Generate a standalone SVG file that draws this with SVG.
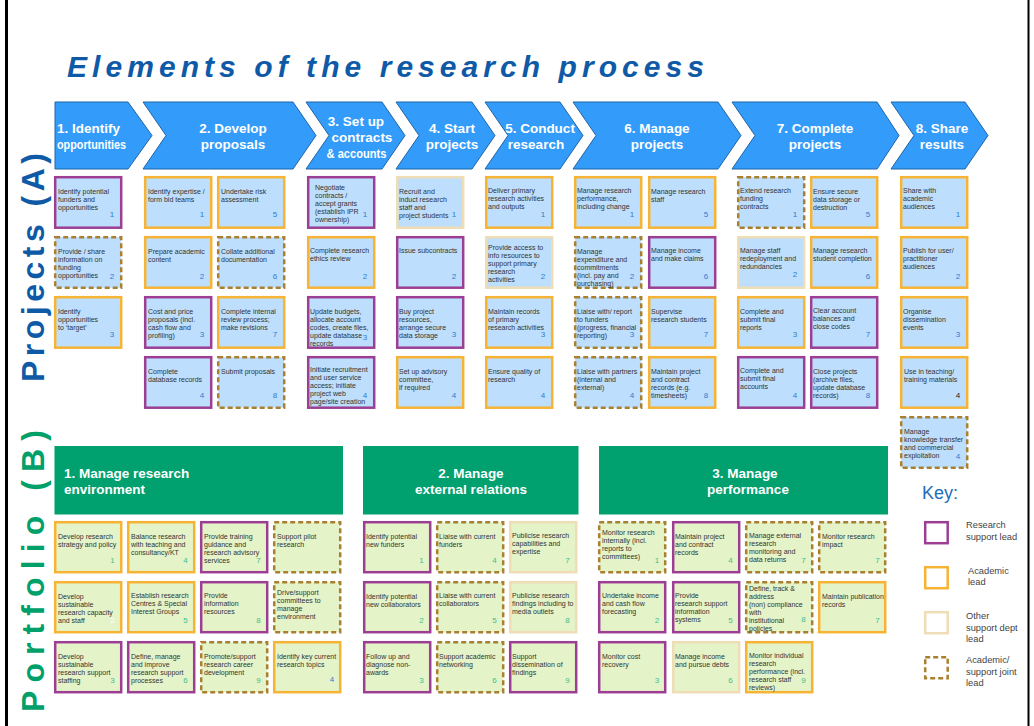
<svg xmlns="http://www.w3.org/2000/svg" width="1034" height="726" viewBox="0 0 1034 726">
<style>
text{font-family:"Liberation Sans",Arial,sans-serif}
.title{font-size:30px;font-weight:bold;font-style:italic;fill:#0E5AA7}
.side{font-size:32px;font-weight:bold}
.chev{fill:#339CFA;stroke:#1F64A8;stroke-width:1}
.ch{font-size:13.5px;font-weight:bold;fill:#fff}
.bar{fill:#01A06F}
.bt{font-size:13.5px;font-weight:bold;fill:#fff}
.pj{fill:#BDDEFC;stroke-width:2.5}
.pf{fill:#E4F3C8;stroke-width:2.5}
.kb{fill:#fff;stroke-width:2.5}
.rs{stroke:#9C3F94}
.ac{stroke:#F7B334}
.ot{stroke:#EEDDB5}
.jt{stroke:#A88030;stroke-dasharray:5 3}
.t{font-size:7px;fill:#333}
.np{font-size:8px;fill:#2F7DD1;text-anchor:middle}
.nf{font-size:8px;fill:#3DC08C;text-anchor:middle}
.nd{font-size:8px;fill:#222;text-anchor:middle}
.nw{font-size:8px;fill:#fff;text-anchor:middle}
.key{font-size:18px;fill:#1F6EB8}
.kt{font-size:9.3px;fill:#444}
</style>

<!-- frame -->
<line x1="6.5" y1="0" x2="6.5" y2="726" stroke="#000" stroke-width="3"/>
<line x1="1028.5" y1="0" x2="1028.5" y2="726" stroke="#000" stroke-width="2"/>

<text class="title" x="67" y="77" textLength="637" lengthAdjust="spacing">Elements of the research process</text>

<text class="side" fill="#0E5AA7" transform="translate(43.5,382) rotate(-90)" textLength="229" lengthAdjust="spacing">Projects (A)</text>
<text class="side" fill="#00A06A" transform="translate(43.5,712) rotate(-90)" textLength="282" lengthAdjust="spacing">Portfolio (B)</text>

<!-- stage headers -->
<g id="stage-1"><polygon class="chev" points="55,102 128,102 152,135.5 128,169 55,169"/><text class="ch" x="57" y="133">1. Identify</text><text class="ch" x="57" y="148.5" textLength="69" lengthAdjust="spacingAndGlyphs">opportunities</text></g>
<g id="stage-2"><polygon class="chev" points="143,102 293,102 316,135.5 293,169 143,169 166,135.5"/><text class="ch" x="233" y="133" text-anchor="middle">2. Develop</text><text class="ch" x="233" y="148.5" text-anchor="middle">proposals</text></g>
<g id="stage-3"><polygon class="chev" points="306,102 382,102 405,135.5 382,169 306,169 329,135.5"/><text class="ch" x="356" y="125.5" text-anchor="middle">3. Set up</text><text class="ch" x="362" y="141.5" text-anchor="middle">contracts</text><text class="ch" x="356.5" y="157.5" text-anchor="middle" textLength="60" lengthAdjust="spacingAndGlyphs">&amp; accounts</text></g>
<g id="stage-4"><polygon class="chev" points="396,102 472,102 495,135.5 472,169 396,169 419,135.5"/><text class="ch" x="452" y="133" text-anchor="middle">4. Start</text><text class="ch" x="452" y="148.5" text-anchor="middle">projects</text></g>
<g id="stage-5"><polygon class="chev" points="485,102 560,102 583,135.5 560,169 485,169 508,135.5"/><text class="ch" x="540" y="133" text-anchor="middle">5. Conduct</text><text class="ch" x="536" y="148.5" text-anchor="middle">research</text></g>
<g id="stage-6"><polygon class="chev" points="573,102 718,102 741,135.5 718,169 573,169 596,135.5"/><text class="ch" x="657" y="133" text-anchor="middle">6. Manage</text><text class="ch" x="657" y="148.5" text-anchor="middle">projects</text></g>
<g id="stage-7"><polygon class="chev" points="732,102 877,102 899,135.5 877,169 732,169 755,135.5"/><text class="ch" x="815" y="133" text-anchor="middle">7. Complete</text><text class="ch" x="815" y="148.5" text-anchor="middle">projects</text></g>
<g id="stage-8"><polygon class="chev" points="891,102 965,102 988,135.5 965,169 891,169 914,135.5"/><text class="ch" x="942" y="133" text-anchor="middle">8. Share</text><text class="ch" x="942" y="148.5" text-anchor="middle">results</text></g>

<!-- Projects: stage 1 -->
<g id="a1-1"><rect class="pj rs" x="55.2" y="177.2" width="66" height="50.5"/><text class="t" y="194"><tspan x="58">Identify potential</tspan><tspan x="58" dy="8">funders and</tspan><tspan x="58" dy="8">opportunities</tspan></text><text class="np" x="112" y="217">1</text></g>
<g id="a1-2"><rect class="pj jt" x="55.2" y="237.2" width="66" height="50.5"/><text class="t" y="254"><tspan x="58">Provide  / share</tspan><tspan x="58" dy="8">information on</tspan><tspan x="58" dy="8">funding</tspan><tspan x="58" dy="8">opportunities</tspan></text><text class="np" x="112" y="279">2</text></g>
<g id="a1-3"><rect class="pj ac" x="55.2" y="297.2" width="66" height="50.5"/><text class="t" y="314"><tspan x="58">Identify</tspan><tspan x="58" dy="8">opportunities</tspan><tspan x="58" dy="8">to ‘target’</tspan></text><text class="np" x="112" y="337">3</text></g>

<!-- Projects: stage 2 -->
<g id="a2-1"><rect class="pj ac" x="145.2" y="177.2" width="66" height="50.5"/><text class="t" y="194"><tspan x="148">Identify expertise /</tspan><tspan x="148" dy="8">form bid teams</tspan></text><text class="np" x="202" y="217">1</text></g>
<g id="a2-2"><rect class="pj ac" x="145.2" y="237.2" width="66" height="50.5"/><text class="t" y="254"><tspan x="148">Prepare academic</tspan><tspan x="148" dy="8">content</tspan></text><text class="np" x="202" y="279">2</text></g>
<g id="a2-3"><rect class="pj rs" x="145.2" y="297.2" width="66" height="50.5"/><text class="t" y="314"><tspan x="148">Cost and price</tspan><tspan x="148" dy="8">proposals (incl.</tspan><tspan x="148" dy="8">cash flow and</tspan><tspan x="148" dy="8">profiling)</tspan></text><text class="np" x="202" y="337">3</text></g>
<g id="a2-4"><rect class="pj rs" x="145.2" y="357.2" width="66" height="50.5"/><text class="t" y="374"><tspan x="148">Complete</tspan><tspan x="148" dy="8">database records</tspan></text><text class="np" x="202" y="398">4</text></g>
<g id="a2-5"><rect class="pj ac" x="218.2" y="177.2" width="66" height="50.5"/><text class="t" y="194"><tspan x="221">Undertake risk</tspan><tspan x="221" dy="8">assessment</tspan></text><text class="np" x="275" y="217">5</text></g>
<g id="a2-6"><rect class="pj jt" x="218.2" y="237.2" width="66" height="50.5"/><text class="t" y="254"><tspan x="221">Collate additional</tspan><tspan x="221" dy="8">documentation</tspan></text><text class="np" x="275" y="279">6</text></g>
<g id="a2-7"><rect class="pj ac" x="218.2" y="297.2" width="66" height="50.5"/><text class="t" y="314"><tspan x="221">Complete internal</tspan><tspan x="221" dy="8">review process;</tspan><tspan x="221" dy="8">make revisions</tspan></text><text class="np" x="275" y="337">7</text></g>
<g id="a2-8"><rect class="pj jt" x="218.2" y="357.2" width="66" height="50.5"/><text class="t" y="374"><tspan x="221">Submit proposals</tspan></text><text class="np" x="275" y="398">8</text></g>

<!-- Projects: stage 3 -->
<g id="a3-1"><rect class="pj rs" x="308.2" y="177.2" width="66" height="50.5"/><text class="t" y="190"><tspan x="315">Negotiate</tspan><tspan x="315" dy="8">contracts  /</tspan><tspan x="315" dy="8">accept grants</tspan><tspan x="315" dy="8">(establish IPR</tspan><tspan x="315" dy="8">ownership)</tspan></text><text class="np" x="365" y="217">1</text></g>
<g id="a3-2"><rect class="pj ac" x="308.2" y="237.2" width="66" height="50.5"/><text class="t" y="253"><tspan x="310">Complete research</tspan><tspan x="310" dy="8">ethics review</tspan></text><text class="np" x="365" y="279">2</text></g>
<g id="a3-3"><rect class="pj rs" x="308.2" y="297.2" width="66" height="50.5"/><text class="t" y="314"><tspan x="310">Update budgets,</tspan><tspan x="310" dy="8">allocate account</tspan><tspan x="310" dy="8">codes, create files,</tspan><tspan x="310" dy="8">update database</tspan><tspan x="310" dy="8">records</tspan></text><text class="np" x="365" y="340">3</text></g>
<g id="a3-4"><rect class="pj rs" x="308.2" y="357.2" width="66" height="50.5"/><text class="t" y="372"><tspan x="310">Initiate recruitment</tspan><tspan x="310" dy="8">and user service</tspan><tspan x="310" dy="8">access; initiate</tspan><tspan x="310" dy="8">project web</tspan><tspan x="310" dy="8">page/site creation</tspan></text><text class="np" x="365" y="398">4</text></g>

<!-- Projects: stage 4 -->
<g id="a4-1"><rect class="pj ot" x="397.2" y="177.2" width="66" height="50.5"/><text class="t" y="194"><tspan x="399">Recruit and</tspan><tspan x="399" dy="8">induct research</tspan><tspan x="399" dy="8">staff and</tspan><tspan x="399" dy="8">project students</tspan></text><text class="np" x="454" y="217">1</text></g>
<g id="a4-2"><rect class="pj rs" x="397.2" y="237.2" width="66" height="50.5"/><text class="t" y="253"><tspan x="399">Issue subcontracts</tspan></text><text class="np" x="454" y="279">2</text></g>
<g id="a4-3"><rect class="pj rs" x="397.2" y="297.2" width="66" height="50.5"/><text class="t" y="314"><tspan x="399">Buy project</tspan><tspan x="399" dy="8">resources,</tspan><tspan x="399" dy="8">arrange secure</tspan><tspan x="399" dy="8">data storage</tspan></text><text class="np" x="454" y="337">3</text></g>
<g id="a4-4"><rect class="pj ac" x="397.2" y="357.2" width="66" height="50.5"/><text class="t" y="374"><tspan x="399">Set up advisory</tspan><tspan x="399" dy="8">committee,</tspan><tspan x="399" dy="8">if required</tspan></text><text class="np" x="454" y="398">4</text></g>

<!-- Projects: stage 5 -->
<g id="a5-1"><rect class="pj ac" x="486.2" y="177.2" width="66" height="50.5"/><text class="t" y="193"><tspan x="488">Deliver primary</tspan><tspan x="488" dy="8">research activities</tspan><tspan x="488" dy="8">and outputs</tspan></text><text class="np" x="543" y="217">1</text></g>
<g id="a5-2"><rect class="pj ot" x="486.2" y="237.2" width="66" height="50.5"/><text class="t" y="250"><tspan x="488">Provide access to</tspan><tspan x="488" dy="8">info resources to</tspan><tspan x="488" dy="8">support primary</tspan><tspan x="488" dy="8">research</tspan><tspan x="488" dy="8">activities</tspan></text><text class="np" x="543" y="279">2</text></g>
<g id="a5-3"><rect class="pj ac" x="486.2" y="297.2" width="66" height="50.5"/><text class="t" y="314"><tspan x="488">Maintain records</tspan><tspan x="488" dy="8">of  primary</tspan><tspan x="488" dy="8">research activities</tspan></text><text class="np" x="543" y="337">3</text></g>
<g id="a5-4"><rect class="pj ac" x="486.2" y="357.2" width="66" height="50.5"/><text class="t" y="374"><tspan x="488">Ensure quality of</tspan><tspan x="488" dy="8">research</tspan></text><text class="np" x="543" y="398">4</text></g>

<!-- Projects: stage 6 -->
<g id="a6-1"><rect class="pj ac" x="575.2" y="177.2" width="66" height="50.5"/><text class="t" y="193"><tspan x="577">Manage research</tspan><tspan x="577" dy="8">performance,</tspan><tspan x="577" dy="8">including change</tspan></text><text class="np" x="632" y="217">1</text></g>
<g id="a6-2"><rect class="pj jt" x="575.2" y="237.2" width="66" height="50.5"/><text class="t" y="254"><tspan x="577">Manage</tspan><tspan x="577" dy="8">expenditure and</tspan><tspan x="577" dy="8">commitments</tspan><tspan x="577" dy="8">(incl. pay and</tspan><tspan x="577" dy="8">purchasing)</tspan></text><text class="np" x="632" y="279">2</text></g>
<g id="a6-3"><rect class="pj jt" x="575.2" y="297.2" width="66" height="50.5"/><text class="t" y="314"><tspan x="577">Liaise with/ report</tspan><tspan x="577" dy="8">to funders</tspan><tspan x="577" dy="8">(progress, financial</tspan><tspan x="577" dy="8">reporting)</tspan></text><text class="np" x="632" y="337">3</text></g>
<g id="a6-4"><rect class="pj jt" x="575.2" y="357.2" width="66" height="50.5"/><text class="t" y="374"><tspan x="577">Liaise with partners</tspan><tspan x="577" dy="8">(internal and</tspan><tspan x="577" dy="8">external)</tspan></text><text class="np" x="632" y="398">4</text></g>
<g id="a6-5"><rect class="pj ac" x="649.2" y="177.2" width="66" height="50.5"/><text class="t" y="194"><tspan x="651">Manage research</tspan><tspan x="651" dy="8">staff</tspan></text><text class="np" x="706" y="217">5</text></g>
<g id="a6-6"><rect class="pj rs" x="649.2" y="237.2" width="66" height="50.5"/><text class="t" y="253"><tspan x="651">Manage income</tspan><tspan x="651" dy="8">and make claims</tspan></text><text class="np" x="706" y="279">6</text></g>
<g id="a6-7"><rect class="pj ac" x="649.2" y="297.2" width="66" height="50.5"/><text class="t" y="314"><tspan x="651">Supervise</tspan><tspan x="651" dy="8">research students</tspan></text><text class="np" x="706" y="337">7</text></g>
<g id="a6-8"><rect class="pj ac" x="649.2" y="357.2" width="66" height="50.5"/><text class="t" y="374"><tspan x="651">Maintain project</tspan><tspan x="651" dy="8">and contract</tspan><tspan x="651" dy="8">records (e.g.</tspan><tspan x="651" dy="8">timesheets)</tspan></text><text class="np" x="706" y="398">8</text></g>

<!-- Projects: stage 7 -->
<g id="a7-1"><rect class="pj jt" x="738.2" y="177.2" width="66" height="50.5"/><text class="t" y="193"><tspan x="740">Extend research</tspan><tspan x="740" dy="8">funding</tspan><tspan x="740" dy="8">contracts</tspan></text><text class="np" x="795" y="217">1</text></g>
<g id="a7-2"><rect class="pj ot" x="738.2" y="237.2" width="66" height="50.5"/><text class="t" y="253"><tspan x="740">Manage staff</tspan><tspan x="740" dy="8">redeployment and</tspan><tspan x="740" dy="8">redundancies</tspan></text><text class="np" x="795" y="277">2</text></g>
<g id="a7-3"><rect class="pj ac" x="738.2" y="297.2" width="66" height="50.5"/><text class="t" y="314"><tspan x="740">Complete and</tspan><tspan x="740" dy="8">submit final</tspan><tspan x="740" dy="8">reports</tspan></text><text class="np" x="795" y="337">3</text></g>
<g id="a7-4"><rect class="pj rs" x="738.2" y="357.2" width="66" height="50.5"/><text class="t" y="373"><tspan x="740">Complete and</tspan><tspan x="740" dy="8">submit final</tspan><tspan x="740" dy="8">accounts</tspan></text><text class="np" x="795" y="398">4</text></g>
<g id="a7-5"><rect class="pj ac" x="811.2" y="177.2" width="66" height="50.5"/><text class="t" y="194"><tspan x="813">Ensure secure</tspan><tspan x="813" dy="8">data storage or</tspan><tspan x="813" dy="8">destruction</tspan></text><text class="np" x="868" y="217">5</text></g>
<g id="a7-6"><rect class="pj ac" x="811.2" y="237.2" width="66" height="50.5"/><text class="t" y="253"><tspan x="813">Manage research</tspan><tspan x="813" dy="8">student completion</tspan></text><text class="np" x="868" y="279">6</text></g>
<g id="a7-7"><rect class="pj rs" x="811.2" y="297.2" width="66" height="50.5"/><text class="t" y="313"><tspan x="813">Clear account</tspan><tspan x="813" dy="8">balances and</tspan><tspan x="813" dy="8">close codes</tspan></text><text class="np" x="868" y="337">7</text></g>
<g id="a7-8"><rect class="pj rs" x="811.2" y="357.2" width="66" height="50.5"/><text class="t" y="374"><tspan x="813">Close projects</tspan><tspan x="813" dy="8">(archive files,</tspan><tspan x="813" dy="8">update database</tspan><tspan x="813" dy="8">records)</tspan></text><text class="np" x="868" y="398">8</text></g>

<!-- Projects: stage 8 -->
<g id="a8-1"><rect class="pj ac" x="901.2" y="177.2" width="66" height="50.5"/><text class="t" y="193"><tspan x="903">Share with</tspan><tspan x="903" dy="8">academic</tspan><tspan x="903" dy="8">audiences</tspan></text><text class="np" x="958" y="217">1</text></g>
<g id="a8-2"><rect class="pj ac" x="901.2" y="237.2" width="66" height="50.5"/><text class="t" y="253"><tspan x="903">Publish for user/</tspan><tspan x="903" dy="8">practitioner</tspan><tspan x="903" dy="8">audiences</tspan></text><text class="np" x="958" y="279">2</text></g>
<g id="a8-3"><rect class="pj ac" x="901.2" y="297.2" width="66" height="50.5"/><text class="t" y="314"><tspan x="903">Organise</tspan><tspan x="903" dy="8">dissemination</tspan><tspan x="903" dy="8">events</tspan></text><text class="np" x="958" y="337">3</text></g>
<g id="a8-4"><rect class="pj ac" x="901.2" y="357.2" width="66" height="50.5"/><text class="t" y="374"><tspan x="904">Use in  teaching/</tspan><tspan x="904" dy="8">training materials</tspan></text><text class="nd" x="958" y="398">4</text></g>
<g id="a8-5"><rect class="pj jt" x="901.2" y="417.2" width="66" height="50.5"/><text class="t" y="434"><tspan x="904">Manage</tspan><tspan x="904" dy="8">knowledge transfer</tspan><tspan x="904" dy="8">and commercial</tspan><tspan x="904" dy="8">exploitation</tspan></text><text class="np" x="958" y="458.5">4</text></g>

<!-- Portfolio headers -->
<g id="b1"><rect class="bar" x="54.5" y="446" width="288.5" height="68.5"/><text class="bt" x="64" y="478">1. Manage research</text><text class="bt" x="64" y="494">environment</text></g>
<g id="b2"><rect class="bar" x="363" y="446" width="215.5" height="68.5"/><text class="bt" x="471" y="478" text-anchor="middle">2. Manage</text><text class="bt" x="471" y="494" text-anchor="middle">external relations</text></g>
<g id="b3"><rect class="bar" x="599" y="446" width="289" height="68.5"/><text class="bt" x="745" y="478" text-anchor="middle">3. Manage</text><text class="bt" x="748" y="494" text-anchor="middle">performance</text></g>

<!-- Portfolio 1: research environment -->
<g id="b1-1"><rect class="pf ac" x="55.2" y="522.2" width="66" height="50"/><text class="t" y="539"><tspan x="58">Develop research</tspan><tspan x="58" dy="8">strategy and policy</tspan></text><text class="nf" x="112.5" y="562.5">1</text></g>
<g id="b1-2"><rect class="pf ac" x="55.2" y="582.2" width="66" height="50"/><text class="t" y="599"><tspan x="58">Develop</tspan><tspan x="58" dy="8">sustainable</tspan><tspan x="58" dy="8">research capacity</tspan><tspan x="58" dy="8">and staff</tspan></text><text class="nw" x="112.5" y="622.5">2</text></g>
<g id="b1-3"><rect class="pf rs" x="55.2" y="642.2" width="66" height="50"/><text class="t" y="659"><tspan x="58">Develop</tspan><tspan x="58" dy="8">sustainable</tspan><tspan x="58" dy="8">research support</tspan><tspan x="58" dy="8">staffing</tspan></text><text class="nf" x="112.5" y="683">3</text></g>
<g id="b1-4"><rect class="pf ac" x="128.2" y="522.2" width="66" height="50"/><text class="t" y="539"><tspan x="131">Balance research</tspan><tspan x="131" dy="8">with teaching and</tspan><tspan x="131" dy="8">consultancy/KT</tspan></text><text class="nf" x="185.5" y="562.5">4</text></g>
<g id="b1-5"><rect class="pf ac" x="128.2" y="582.2" width="66" height="50"/><text class="t" y="598"><tspan x="131">Establish research</tspan><tspan x="131" dy="8">Centres &amp; Special</tspan><tspan x="131" dy="8">Interest Groups</tspan></text><text class="nf" x="185.5" y="622.5">5</text></g>
<g id="b1-6"><rect class="pf rs" x="128.2" y="642.2" width="66" height="50"/><text class="t" y="659"><tspan x="131">Define, manage</tspan><tspan x="131" dy="8">and improve</tspan><tspan x="131" dy="8">research support</tspan><tspan x="131" dy="8">processes</tspan></text><text class="nf" x="185.5" y="683">6</text></g>
<g id="b1-7"><rect class="pf rs" x="201.2" y="522.2" width="66" height="50"/><text class="t" y="539"><tspan x="204">Provide training</tspan><tspan x="204" dy="8">guidance and</tspan><tspan x="204" dy="8">research advisory</tspan><tspan x="204" dy="8">services</tspan></text><text class="nf" x="258.5" y="562.5">7</text></g>
<g id="b1-8"><rect class="pf rs" x="201.2" y="582.2" width="66" height="50"/><text class="t" y="598"><tspan x="204">Provide</tspan><tspan x="204" dy="8">information</tspan><tspan x="204" dy="8">resources</tspan></text><text class="nf" x="258.5" y="622.5">8</text></g>
<g id="b1-9"><rect class="pf jt" x="201.2" y="642.2" width="66" height="50"/><text class="t" y="659"><tspan x="204">Promote/support</tspan><tspan x="204" dy="8">research career</tspan><tspan x="204" dy="8">development</tspan></text><text class="nf" x="258.5" y="683">9</text></g>
<g id="b1-10"><rect class="pf jt" x="274.2" y="522.2" width="66" height="50"/><text class="t" y="539"><tspan x="277">Support pilot</tspan><tspan x="277" dy="8">research</tspan></text></g>
<g id="b1-11"><rect class="pf jt" x="274.2" y="582.2" width="66" height="50"/><text class="t" y="595"><tspan x="277">Drive/support</tspan><tspan x="277" dy="8">committees to</tspan><tspan x="277" dy="8">manage</tspan><tspan x="277" dy="8">environment</tspan></text></g>
<g id="b1-12"><rect class="pf ac" x="274.2" y="642.2" width="66" height="50"/><text class="t" y="659"><tspan x="277">Identify key current</tspan><tspan x="277" dy="8">research topics</tspan></text><text class="np" x="332" y="682">4</text></g>

<!-- Portfolio 2: external relations -->
<g id="b2-1"><rect class="pf rs" x="364.2" y="522.2" width="66" height="50"/><text class="t" y="539"><tspan x="366">Identify potential</tspan><tspan x="366" dy="8">new funders</tspan></text><text class="nf" x="421.5" y="563">1</text></g>
<g id="b2-2"><rect class="pf rs" x="364.2" y="582.2" width="66" height="50"/><text class="t" y="599"><tspan x="366">Identify potential</tspan><tspan x="366" dy="8">new collaborators</tspan></text><text class="nf" x="421.5" y="623">2</text></g>
<g id="b2-3"><rect class="pf rs" x="364.2" y="642.2" width="66" height="50"/><text class="t" y="659"><tspan x="366">Follow up and</tspan><tspan x="366" dy="8">diagnose non-</tspan><tspan x="366" dy="8">awards</tspan></text><text class="nf" x="421.5" y="683">3</text></g>
<g id="b2-4"><rect class="pf jt" x="437.2" y="522.2" width="66" height="50"/><text class="t" y="539"><tspan x="439">Liaise with current</tspan><tspan x="439" dy="8">funders</tspan></text><text class="nf" x="494.5" y="563">4</text></g>
<g id="b2-5"><rect class="pf jt" x="437.2" y="582.2" width="66" height="50"/><text class="t" y="598"><tspan x="439">Liaise with current</tspan><tspan x="439" dy="8">collaborators</tspan></text><text class="nf" x="494.5" y="623">5</text></g>
<g id="b2-6"><rect class="pf jt" x="437.2" y="642.2" width="66" height="50"/><text class="t" y="659"><tspan x="439">Support academic</tspan><tspan x="439" dy="8">networking</tspan></text><text class="nf" x="494.5" y="683">6</text></g>
<g id="b2-7"><rect class="pf ot" x="510.2" y="522.2" width="66" height="50"/><text class="t" y="538"><tspan x="512">Publicise research</tspan><tspan x="512" dy="8">capabilities and</tspan><tspan x="512" dy="8">expertise</tspan></text><text class="nf" x="567.5" y="563">7</text></g>
<g id="b2-8"><rect class="pf ot" x="510.2" y="582.2" width="66" height="50"/><text class="t" y="598"><tspan x="512">Publicise research</tspan><tspan x="512" dy="8">findings including to</tspan><tspan x="512" dy="8">media outlets</tspan></text><text class="nf" x="567.5" y="623">8</text></g>
<g id="b2-9"><rect class="pf rs" x="510.2" y="642.2" width="66" height="50"/><text class="t" y="659"><tspan x="512">Support</tspan><tspan x="512" dy="8">dissemination of</tspan><tspan x="512" dy="8">findings</tspan></text><text class="nf" x="567.5" y="683">9</text></g>

<!-- Portfolio 3: performance -->
<g id="b3-1"><rect class="pf jt" x="599.2" y="522.2" width="66" height="50"/><text class="t" y="535"><tspan x="602">Monitor research</tspan><tspan x="602" dy="8">internally (incl.</tspan><tspan x="602" dy="8">reports to</tspan><tspan x="602" dy="8">committees)</tspan></text><text class="nf" x="657" y="563">1</text></g>
<g id="b3-2"><rect class="pf rs" x="599.2" y="582.2" width="66" height="50"/><text class="t" y="598"><tspan x="602">Undertake income</tspan><tspan x="602" dy="8">and cash flow</tspan><tspan x="602" dy="8">forecasting</tspan></text><text class="nf" x="657" y="623">2</text></g>
<g id="b3-3"><rect class="pf rs" x="599.2" y="642.2" width="66" height="50"/><text class="t" y="659"><tspan x="602">Monitor cost</tspan><tspan x="602" dy="8">recovery</tspan></text><text class="nf" x="657" y="683">3</text></g>
<g id="b3-4"><rect class="pf rs" x="673.2" y="522.2" width="66" height="50"/><text class="t" y="539"><tspan x="675">Maintain project</tspan><tspan x="675" dy="8">and contract</tspan><tspan x="675" dy="8">records</tspan></text><text class="nf" x="730.5" y="563">4</text></g>
<g id="b3-5"><rect class="pf rs" x="673.2" y="582.2" width="66" height="50"/><text class="t" y="598"><tspan x="675">Provide</tspan><tspan x="675" dy="8">research support</tspan><tspan x="675" dy="8">information</tspan><tspan x="675" dy="8">systems</tspan></text><text class="nf" x="730.5" y="623">5</text></g>
<g id="b3-6"><rect class="pf ot" x="673.2" y="642.2" width="66" height="50"/><text class="t" y="659"><tspan x="675">Manage income</tspan><tspan x="675" dy="8">and pursue  debts</tspan></text><text class="nf" x="730.5" y="683">6</text></g>
<g id="b3-7"><rect class="pf jt" x="746.2" y="522.2" width="66" height="50"/><text class="t" y="538"><tspan x="749">Manage external</tspan><tspan x="749" dy="8">research</tspan><tspan x="749" dy="8">monitoring and</tspan><tspan x="749" dy="8">data returns</tspan></text><text class="nf" x="803.5" y="563">7</text></g>
<g id="b3-8"><rect class="pf jt" x="746.2" y="582.2" width="66" height="50"/><text class="t" y="591"><tspan x="749">Define, track &amp;</tspan><tspan x="749" dy="8">address</tspan><tspan x="749" dy="8">(non) compliance</tspan><tspan x="749" dy="8">with</tspan><tspan x="749" dy="8">institutional</tspan><tspan x="749" dy="8">policies</tspan></text><text class="nf" x="803.5" y="622">8</text></g>
<g id="b3-9"><rect class="pf ac" x="746.2" y="642.2" width="66" height="50"/><text class="t" y="657.5"><tspan x="749">Monitor individual</tspan><tspan x="749" dy="8">research</tspan><tspan x="749" dy="8">performance (incl.</tspan><tspan x="749" dy="8">research staff</tspan><tspan x="749" dy="8">reviews)</tspan></text><text class="nf" x="803.5" y="683">9</text></g>
<g id="b3-10"><rect class="pf jt" x="819.2" y="522.2" width="66" height="50"/><text class="t" y="539"><tspan x="822">Monitor research</tspan><tspan x="822" dy="8">impact</tspan></text><text class="nf" x="877.5" y="563">7</text></g>
<g id="b3-11"><rect class="pf ac" x="819.2" y="582.2" width="66" height="50"/><text class="t" y="599"><tspan x="822">Maintain publication</tspan><tspan x="822" dy="8">records</tspan></text><text class="nf" x="877.5" y="623">7</text></g>

<!-- Key -->
<g id="key">
<text class="key" x="922" y="499">Key:</text>
<rect class="kb rs" x="925.2" y="522.2" width="22.5" height="21"/>
<text class="kt" x="966" y="527.5">Research</text><text class="kt" x="966" y="539.5">support lead</text>
<rect class="kb ac" x="925.2" y="567.2" width="22.5" height="21"/>
<text class="kt" x="968" y="573.5">Academic</text><text class="kt" x="968" y="584.5">lead</text>
<rect class="kb ot" x="925.2" y="612.2" width="22.5" height="21"/>
<text class="kt" x="966" y="618.5">Other</text><text class="kt" x="966" y="630.5">support dept</text><text class="kt" x="966" y="642">lead</text>
<rect class="kb jt" x="925.2" y="657.2" width="22.5" height="21"/>
<text class="kt" x="966" y="662.5">Academic/</text><text class="kt" x="966" y="674.5">support  joint</text><text class="kt" x="966" y="686">lead</text>
</g>
</svg>
